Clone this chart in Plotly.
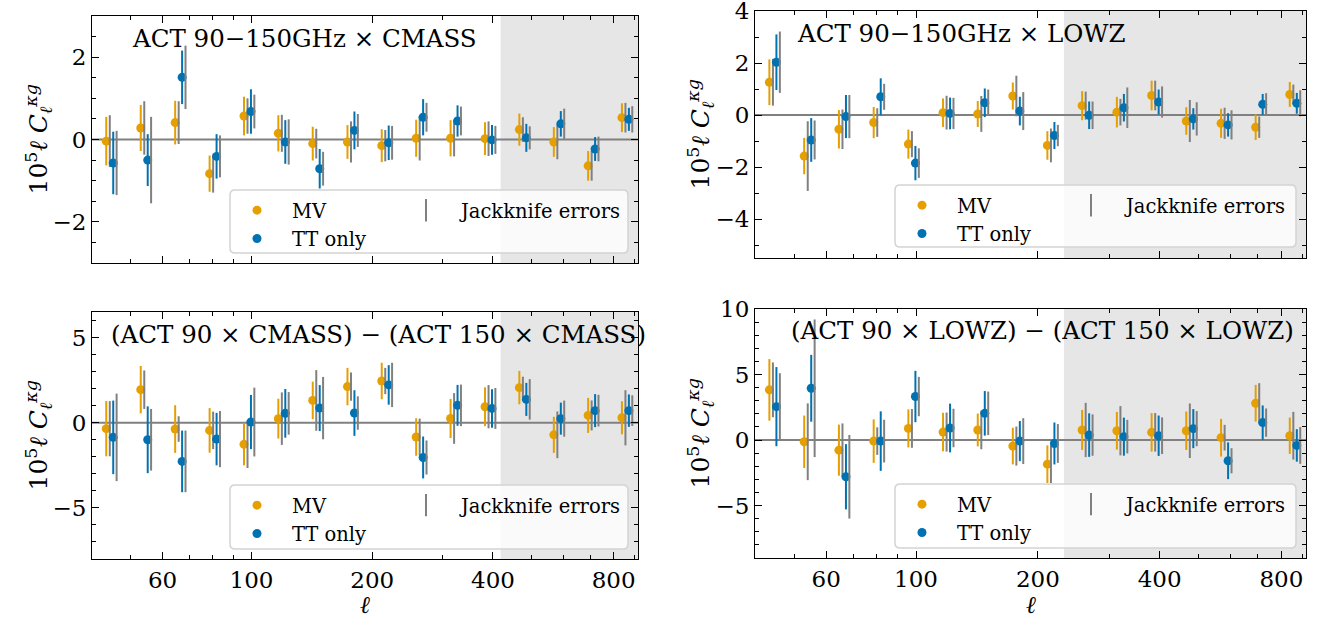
import plotly.graph_objects as go
import numpy as np

# bin centres (multipole)
ell = [44.3, 54, 65.8, 80.2, 97.7, 119, 145, 177, 215.5, 262.6, 320, 390, 475, 579, 705, 856]

# ACT 90-150GHz x CMASS
cmass_mv = [-0.04, 0.28, 0.41, -0.83, 0.57, 0.15, -0.10, -0.06, -0.15, 0.03, 0.03, 0.02, 0.24, -0.06, -0.64, 0.53]
cmass_mv_err = [0.59, 0.56, 0.53, 0.44, 0.47, 0.44, 0.41, 0.41, 0.40, 0.45, 0.44, 0.40, 0.39, 0.36, 0.36, 0.35]
cmass_mv_jk = [0.63, 0.65, 0.52, 0.46, 0.43, 0.45, 0.36, 0.50, 0.38, 0.54, 0.44, 0.42, 0.30, 0.42, 0.36, 0.36]
cmass_tt = [-0.57, -0.50, 1.51, -0.41, 0.68, -0.06, -0.71, 0.22, -0.08, 0.54, 0.45, -0.01, 0.04, 0.38, -0.23, 0.49]
cmass_tt_err = [0.76, 0.63, 0.65, 0.54, 0.54, 0.53, 0.48, 0.46, 0.42, 0.44, 0.38, 0.36, 0.34, 0.31, 0.29, 0.28]
cmass_tt_jk = [0.78, 1.05, 0.77, 0.51, 0.41, 0.55, 0.41, 0.40, 0.41, 0.35, 0.35, 0.34, 0.28, 0.37, 0.30, 0.32]

# ACT 90-150GHz x LOWZ
lowz_mv = [1.26, -1.58, -0.55, -0.29, -1.12, 0.09, 0.04, 0.73, -1.17, 0.36, 0.11, 0.75, -0.23, -0.32, -0.47, 0.79]
lowz_mv_err = [0.88, 0.70, 0.74, 0.60, 0.56, 0.55, 0.50, 0.52, 0.55, 0.56, 0.59, 0.57, 0.53, 0.56, 0.49, 0.48]
lowz_mv_jk = [0.90, 1.34, 0.76, 0.55, 0.50, 0.65, 0.69, 0.78, 0.65, 0.54, 0.51, 0.57, 0.81, 0.60, 0.41, 0.38]
lowz_tt = [2.03, -0.96, -0.06, 0.70, -1.85, 0.06, 0.47, 0.15, -0.79, -0.01, 0.28, 0.50, -0.15, -0.38, 0.41, 0.45]
lowz_tt_err = [1.07, 0.84, 0.83, 0.71, 0.66, 0.61, 0.55, 0.55, 0.52, 0.53, 0.53, 0.48, 0.41, 0.45, 0.40, 0.40]
lowz_tt_jk = [1.18, 0.75, 0.83, 0.50, 0.57, 0.60, 0.51, 0.73, 0.41, 0.53, 0.78, 0.60, 0.64, 0.56, 0.43, 0.50]

# (ACT 90 x CMASS) - (ACT 150 x CMASS)
dcmass_mv = [-0.35, 1.94, -0.37, -0.45, -1.27, 0.24, 1.31, 2.12, 2.45, -0.84, 0.25, 0.94, 2.06, -0.71, 0.43, 0.29]
dcmass_mv_err = [1.62, 1.39, 1.40, 1.31, 1.23, 1.17, 1.10, 1.10, 1.07, 1.10, 1.15, 1.14, 0.98, 1.06, 1.03, 0.97]
dcmass_mv_jk = [1.62, 1.13, 0.75, 1.10, 1.39, 1.54, 1.78, 0.83, 0.77, 1.08, 1.49, 1.27, 0.64, 1.37, 0.88, 1.62]
dcmass_tt = [-0.86, -1.00, -2.27, -0.96, 0.04, 0.55, 0.86, 0.57, 2.22, -2.04, 1.02, 0.84, 1.37, 0.24, 0.71, 0.71]
dcmass_tt_err = [2.16, 1.96, 1.81, 1.54, 1.59, 1.43, 1.35, 1.34, 1.16, 1.23, 1.20, 1.13, 0.97, 0.94, 0.97, 0.95]
dcmass_tt_jk = [2.57, 1.81, 1.81, 1.65, 2.02, 1.25, 1.83, 0.98, 1.30, 1.00, 1.22, 1.20, 1.19, 1.06, 0.93, 0.90]

# (ACT 90 x LOWZ) - (ACT 150 x LOWZ)
dlowz_mv = [3.83, -0.13, -0.77, -0.08, 0.89, 0.61, 0.77, -0.46, -1.84, 0.77, 0.71, 0.59, 0.71, 0.18, 2.81, 0.33]
dlowz_mv_err = [2.35, 2.00, 1.95, 1.66, 1.45, 1.47, 1.25, 1.40, 1.44, 1.53, 1.44, 1.47, 1.47, 1.44, 1.40, 1.39]
dlowz_mv_jk = [2.09, 2.93, 2.04, 1.05, 1.48, 1.49, 1.47, 1.49, 1.44, 2.07, 1.88, 1.47, 2.08, 0.98, 1.53, 1.82]
dlowz_tt = [2.55, 3.95, -2.80, -0.08, 3.32, 0.92, 2.04, -0.08, -0.26, 0.38, 0.26, 0.33, 0.87, -1.58, 1.33, -0.41]
dlowz_tt_err = [3.02, 2.55, 2.49, 2.27, 1.96, 1.86, 1.70, 1.53, 1.60, 1.66, 1.45, 1.54, 1.49, 1.40, 1.31, 1.24]
dlowz_tt_jk = [2.55, 5.25, 3.19, 1.63, 1.50, 1.47, 1.66, 1.75, 1.48, 1.58, 1.28, 1.40, 1.34, 0.96, 1.08, 1.40]

titles = ["ACT 90−150GHz × CMASS", "ACT 90−150GHz × LOWZ",
          "(ACT 90 × CMASS) − (ACT 150 × CMASS)", "(ACT 90 × LOWZ) − (ACT 150 × LOWZ)"]
shade_start = [418, 232, 418, 232]
yticks = [[-2, 0, 2], [-4, -2, 0, 2, 4], [-5, 0, 5], [-5, 0, 5, 10]]
xticks = [60, 100, 200, 400, 800]
xminor = [50, 70, 80, 90, 300, 500, 600, 700, 900]

data = [
    (cmass_mv, cmass_mv_err, cmass_mv_jk, cmass_tt, cmass_tt_err, cmass_tt_jk),
    (lowz_mv, lowz_mv_err, lowz_mv_jk, lowz_tt, lowz_tt_err, lowz_tt_jk),
    (dcmass_mv, dcmass_mv_err, dcmass_mv_jk, dcmass_tt, dcmass_tt_err, dcmass_tt_jk),
    (dlowz_mv, dlowz_mv_err, dlowz_mv_jk, dlowz_tt, dlowz_tt_err, dlowz_tt_jk),
]

W, H = 1331, 625
FONT = "DejaVu Serif"
ORANGE = "#e69f00"
BLUE = "#0072b2"
GREY = "#808080"

# pixel layout: axes box (left, right, top, bottom), legend box, y range, minor step
axboxes = [(92, 638, 16, 263), (755, 1306, 11, 258), (92, 638, 312, 559), (755, 1306, 309, 558)]
legboxes = [(230, 628, 190, 253), (895, 1296, 185, 247), (230, 628, 485, 549), (895, 1296, 484, 548)]
yranges = [[-3, 3], [-5.5, 4], [-8, 6.5], [-9, 10]]
yminor = [0.5, 1, 1, 1]
title_pos = [(0.07, 0.91), (0.073, 0.91), (0.031, 0.907), (0.062, 0.914)]


def px(x):
    return x / W


def py(y):
    return 1 - y / H


fig = go.Figure()
shapes = []
annotations = []
layout = {}

for i in range(4):
    xa = "x" if i == 0 else f"x{i+1}"
    ya = "y" if i == 0 else f"y{i+1}"
    lg1 = "legend" if i == 0 else f"legend{2*i+1}"
    lg2 = f"legend{2*i+2}"
    mv, mv_err, mv_jk, tt, tt_err, tt_jk = data[i]
    x = np.array(ell)

    fig.add_trace(go.Scatter(
        x=x * 0.98, y=mv, mode="markers", name="MV", xaxis=xa, yaxis=ya, legend=lg1,
        legendgroup=f"mv{i}",
        marker=dict(color=ORANGE, size=9),
        error_y=dict(type="data", array=mv_err, color=ORANGE, thickness=2, width=0)))
    fig.add_trace(go.Scatter(
        x=x * 1.0, y=mv, mode="markers", showlegend=False, xaxis=xa, yaxis=ya,
        marker=dict(color="rgba(0,0,0,0)", size=1),
        error_y=dict(type="data", array=mv_jk, color=GREY, thickness=2, width=0)))
    fig.add_trace(go.Scatter(
        x=x * 1.02, y=tt, mode="markers", name="TT only", xaxis=xa, yaxis=ya, legend=lg1,
        legendgroup=f"tt{i}",
        marker=dict(color=BLUE, size=9),
        error_y=dict(type="data", array=tt_err, color=BLUE, thickness=2, width=0)))
    fig.add_trace(go.Scatter(
        x=x * 1.04, y=tt, mode="markers", showlegend=False, xaxis=xa, yaxis=ya,
        marker=dict(color="rgba(0,0,0,0)", size=1),
        error_y=dict(type="data", array=tt_jk, color=GREY, thickness=2, width=0)))
    fig.add_trace(go.Scatter(
        x=[None], y=[None], mode="markers", name="Jackknife errors", xaxis=xa, yaxis=ya,
        legend=lg2,
        marker=dict(symbol="line-ns", size=20, color=GREY, line=dict(color=GREY, width=2))))

    l, r, t, b = axboxes[i]
    bottom_row = i >= 2
    axname_x = "xaxis" if i == 0 else f"xaxis{i+1}"
    axname_y = "yaxis" if i == 0 else f"yaxis{i+1}"
    layout[axname_x] = dict(
        domain=[px(l), px(r)], anchor=ya, type="log", automargin=False,
        range=[np.log10(40), np.log10(920)],
        tickmode="array", tickvals=xticks, ticktext=[str(v) for v in xticks],
        showticklabels=bottom_row, ticks="inside", ticklen=7, tickwidth=1, tickcolor="black",
        minor=dict(tickmode="array", tickvals=xminor, ticks="inside", ticklen=4,
                   tickwidth=1, tickcolor="black"),
        showline=True, linecolor="black", linewidth=1, mirror="ticks",
        showgrid=False, zeroline=False, ticklabeloverflow="allow",
        tickfont=dict(family=FONT, size=23, color="black"))
    layout[axname_y] = dict(
        domain=[py(b), py(t)], anchor=xa, range=yranges[i], automargin=False,
        tickmode="array", tickvals=yticks[i],
        ticks="inside", ticklen=7, tickwidth=1, tickcolor="black",
        minor=dict(tickmode="linear", tick0=0, dtick=yminor[i], ticks="inside", ticklen=4,
                   tickwidth=1, tickcolor="black"),
        showline=True, linecolor="black", linewidth=1, mirror="ticks",
        showgrid=False, zeroline=False, ticklabeloverflow="allow",
        tickfont=dict(family=FONT, size=23, color="black"))

    # high-ell shaded region
    shapes.append(dict(type="rect", xref=xa, yref=f"{ya} domain",
                       x0=shade_start[i], x1=920, y0=0, y1=1,
                       fillcolor="rgba(128,128,128,0.2)", line=dict(width=0), layer="below"))
    # zero line
    shapes.append(dict(type="line", xref=f"{xa} domain", yref=ya, x0=0, x1=1, y0=0, y1=0,
                       line=dict(color=GREY, width=2), layer="below"))

    # legend box (rounded)
    bl, br, bt, bb = legboxes[i]
    rad = 5
    x0, x1 = px(bl), px(br)
    y0, y1 = py(bb), py(bt)
    rx, ry = rad / W, rad / H
    path = (f"M {x0+rx},{y0} L {x1-rx},{y0} Q {x1},{y0} {x1},{y0+ry} "
            f"L {x1},{y1-ry} Q {x1},{y1} {x1-rx},{y1} L {x0+rx},{y1} "
            f"Q {x0},{y1} {x0},{y1-ry} L {x0},{y0+ry} Q {x0},{y0} {x0+rx},{y0} Z")
    shapes.append(dict(type="path", xref="paper", yref="paper", path=path,
                       fillcolor="rgba(255,255,255,0.8)",
                       line=dict(color="#d3d3d3", width=1.5), layer="above"))

    layout[lg1] = dict(x=px(bl - 8), y=py(bt + 1), xanchor="left", yanchor="top",
                       orientation="v", bgcolor="rgba(0,0,0,0)", borderwidth=0, itemwidth=60,
                       tracegroupgap=0, font=dict(family=FONT, size=19.5, color="black"))
    layout[lg2] = dict(x=px(bl + 161), y=py(bt + 1), xanchor="left", yanchor="top",
                       orientation="v", bgcolor="rgba(0,0,0,0)", borderwidth=0, itemwidth=60,
                       font=dict(family=FONT, size=19.5, color="black"))

    # panel title
    annotations.append(dict(text=titles[i], xref=f"{xa} domain", yref=f"{ya} domain",
                            x=title_pos[i][0], y=title_pos[i][1], xanchor="left",
                            yanchor="middle", showarrow=False,
                            font=dict(family=FONT, size=24.5, color="black")))
    # y-axis label
    ylab_x = 38 if l < 400 else 700
    annotations.append(dict(text="10<sup>5</sup><i>ℓ C</i><sub><i>ℓ</i></sub><sup><i>κg</i></sup>",
                            xref="paper", yref="paper", x=px(ylab_x), y=py((t + b) / 2),
                            xanchor="center", yanchor="middle", textangle=-90, showarrow=False,
                            font=dict(family=FONT, size=25, color="black")))
    if bottom_row:
        annotations.append(dict(text="<i>ℓ</i>", xref="paper", yref="paper",
                                x=px((l + r) / 2), y=py(605), xanchor="center", yanchor="middle",
                                showarrow=False, font=dict(family=FONT, size=24, color="black")))

fig.update_layout(
    width=W, height=H,
    margin=dict(l=0, r=0, t=0, b=0),
    paper_bgcolor="white", plot_bgcolor="white",
    shapes=shapes, annotations=annotations,
    font=dict(family=FONT, color="black"),
    **layout)

# drop the default page margin so the figure fills the window exactly
fig.write_html("out.html", config={"displayModeBar": False},
               post_script="document.body.style.margin='0px';")
